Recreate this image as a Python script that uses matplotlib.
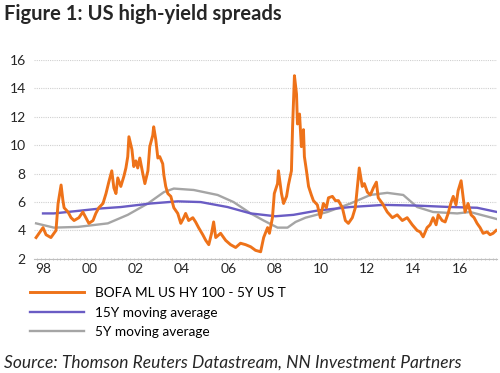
import numpy as np
import matplotlib.pyplot as plt

# BofA ML US HY minus 5Y UST spread (decimal year / %)
hy_year = [1997.70, 1997.83, 1998.00, 1998.13, 1998.34, 1998.47, 1998.56, 1998.65, 1998.78, 1998.86,
           1998.91, 1999.08, 1999.21, 1999.34, 1999.55, 1999.72, 1999.85, 1999.98, 2000.16, 2000.28,
           2000.41, 2000.59, 2000.72, 2000.84, 2000.97, 2001.06, 2001.15, 2001.23, 2001.36, 2001.49,
           2001.58, 2001.66, 2001.71, 2001.84, 2001.92, 2002.01, 2002.09, 2002.18, 2002.31, 2002.40,
           2002.53, 2002.61, 2002.74, 2002.78, 2002.87, 2002.96, 2003.04, 2003.17, 2003.22, 2003.30,
           2003.39, 2003.52, 2003.65, 2003.82, 2003.95, 2004.08, 2004.16, 2004.29, 2004.47, 2004.59,
           2004.72, 2004.90, 2005.03, 2005.16, 2005.28, 2005.37, 2005.46, 2005.67, 2005.89, 2006.10,
           2006.32, 2006.53, 2006.75, 2006.97, 2007.18, 2007.40, 2007.53, 2007.70, 2007.78, 2007.91,
           2007.99, 2008.13, 2008.17, 2008.30, 2008.39, 2008.52, 2008.60, 2008.73, 2008.78, 2008.86,
           2008.95, 2008.99, 2009.08, 2009.16, 2009.25, 2009.29, 2009.38, 2009.47, 2009.59, 2009.68,
           2009.85, 2009.98, 2010.11, 2010.24, 2010.33, 2010.50, 2010.63, 2010.76, 2010.93, 2011.06,
           2011.19, 2011.36, 2011.49, 2011.58, 2011.66, 2011.79, 2011.88, 2012.01, 2012.14, 2012.27,
           2012.40, 2012.48, 2012.66, 2012.87, 2013.09, 2013.30, 2013.52, 2013.73, 2013.95, 2014.16,
           2014.29, 2014.42, 2014.59, 2014.72, 2014.85, 2014.98, 2015.07, 2015.24, 2015.37, 2015.50,
           2015.63, 2015.72, 2015.84, 2015.93, 2016.06, 2016.15, 2016.23, 2016.36, 2016.49, 2016.62,
           2016.75, 2016.88, 2017.01, 2017.18, 2017.31, 2017.44, 2017.57]
hy_val = [3.5, 3.8, 4.2, 3.7, 3.5, 3.8, 4.0, 5.9, 7.2, 6.1,
          5.6, 5.3, 4.9, 4.7, 4.9, 5.3, 4.9, 4.5, 4.7, 5.2,
          5.6, 5.9, 6.6, 7.4, 8.2, 7.0, 6.6, 7.7, 7.1, 7.8,
          8.4, 9.2, 10.6, 9.7, 8.5, 8.9, 8.4, 9.1, 8.0, 7.3,
          8.2, 9.9, 10.7, 11.3, 10.4, 9.1, 9.2, 8.7, 7.9, 7.1,
          6.6, 6.4, 5.6, 5.2, 4.5, 4.9, 5.2, 4.7, 4.9, 4.6,
          4.2, 3.7, 3.3, 3.0, 3.8, 4.6, 3.5, 3.8, 3.3, 3.0,
          2.8, 3.1, 3.0, 2.85, 2.6, 2.5, 3.5, 4.2, 3.8, 4.9,
          6.6, 7.3, 8.2, 6.6, 5.9, 6.4, 7.2, 8.2, 11.3, 14.9,
          13.6, 11.5, 12.2, 9.9, 11.1, 9.2, 8.2, 7.1, 6.5, 6.1,
          5.8, 4.9, 5.9, 5.6, 6.3, 6.4, 6.1, 6.1, 5.6, 4.7,
          4.5, 4.9, 5.6, 7.1, 8.4, 7.1, 7.3, 6.7, 6.5, 7.0,
          7.4, 6.3, 5.9, 5.3, 4.9, 5.1, 4.7, 4.9, 4.4, 4.0,
          3.9, 3.55, 4.2, 4.4, 4.9, 4.4, 5.1, 4.7, 4.6, 5.2,
          6.0, 6.4, 5.8, 6.8, 7.5, 6.3, 5.3, 5.9, 5.1, 4.9,
          4.5, 4.2, 3.8, 3.9, 3.7, 3.8, 4.0]

# 15Y moving average
ma15_year = [1998.00, 1998.47, 1999.64, 2000.50, 2001.36, 2002.66, 2003.82, 2004.81, 2005.97, 2006.97,
             2008.04, 2008.82, 2009.85, 2011.28, 2012.70, 2014.16, 2015.59, 2016.75, 2017.61]
ma15_val = [5.2, 5.2, 5.4, 5.55, 5.65, 5.9, 6.05, 6.0, 5.65, 5.2,
            5.0, 5.1, 5.4, 5.65, 5.8, 5.75, 5.65, 5.6, 5.3]

# 5Y moving average
ma5_year = [1997.70, 1998.47, 1999.51, 2000.80, 2001.66, 2002.53, 2003.22, 2003.65, 2004.51, 2005.54,
            2006.23, 2006.97, 2007.53, 2008.13, 2008.56, 2008.91, 2009.34, 2010.28, 2011.28, 2012.14,
            2012.87, 2013.56, 2014.16, 2014.85, 2015.89, 2016.45, 2017.61]
ma5_val = [4.5, 4.2, 4.25, 4.5, 5.1, 5.9, 6.7, 6.95, 6.85, 6.5,
           6.0, 5.2, 4.7, 4.2, 4.2, 4.6, 4.9, 5.3, 5.9, 6.5,
           6.65, 6.5, 5.65, 5.3, 5.2, 5.3, 4.8]

tick_years = list(range(1998, 2017, 2))
tick_labels = ["%02d" % (y % 100) for y in tick_years]

plt.rcParams['font.family'] = ['Lato', 'DejaVu Sans']

fig = plt.figure(figsize=(5, 3.73), dpi=100)
ax = fig.add_axes([0.068, 0.306, 0.926, 0.533])

ax.plot(ma5_year, ma5_val, color="#a5a5a5", lw=1.7, label="5Y moving average", zorder=2)
ax.plot(ma15_year, ma15_val, color="#6a5cc4", lw=1.7, label="15Y moving average", zorder=3)
ax.plot(hy_year, hy_val, color="#ee7219", lw=2.1, label="BOFA ML US HY 100 - 5Y US T", zorder=4)

ax.set_ylim(2, 16)
ax.set_xlim(1997.61, 2017.61)
ax.set_yticks(range(2, 17, 2))
ax.set_xticks(tick_years)
ax.set_xticklabels(tick_labels)
ax.set_xticks(np.arange(1997.75, 2017.6, 1 / 6), minor=True)

ax.grid(axis="y", color="#d0d0d0", linestyle=(0, (1, 1)), lw=0.8)
for s in ["top", "right", "left"]:
    ax.spines[s].set_visible(False)
ax.spines["bottom"].set_color("#bfbfbf")
ax.spines["bottom"].set_linestyle((0, (1, 1)))
ax.tick_params(axis="y", length=0, labelsize=10, colors="#262626", pad=6)
ax.tick_params(axis="x", which="major", length=0, labelsize=10, colors="#262626", pad=3)
ax.tick_params(axis="x", which="minor", length=2, color="#bfbfbf", direction="inout")

handles, labels = ax.get_legend_handles_labels()
fig.legend(handles[::-1], labels[::-1], loc="upper left", bbox_to_anchor=(0.06, 0.23),
           frameon=False, fontsize=9.8, handlelength=4.0, handletextpad=0.8,
           labelspacing=0.55, borderaxespad=0, borderpad=0)

fig.text(0.008, 0.99, "Figure 1: US high-yield spreads", fontsize=14.5, fontweight="bold",
         va="top", ha="left", color="#262626")
fig.text(0.008, 0.028, "Source: Thomson Reuters Datastream, NN Investment Partners", fontsize=12.5,
         style="italic", va="center", ha="left", color="#262626")

fig.savefig("out.png", dpi=100)
